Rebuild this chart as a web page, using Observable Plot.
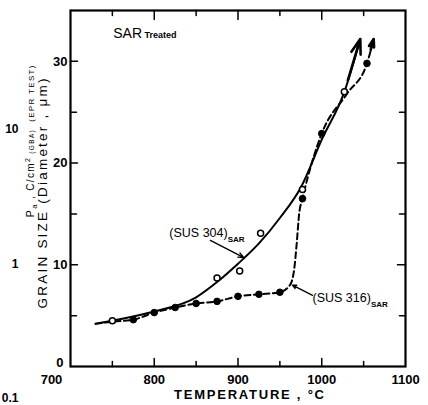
<!DOCTYPE html>
<html><head><meta charset="utf-8">
<script src="https://cdn.jsdelivr.net/npm/d3@7"></script>
<script src="https://cdn.jsdelivr.net/npm/@observablehq/plot@0.6"></script>
<style>body{margin:0;background:#fff;}</style>
</head><body><div id="chart"></div>
<script>
// ---- data ----
const curve304Temp = [730, 750, 800, 850, 875, 900, 925, 950, 975, 1000, 1027, 1046];
const curve304Size = [4.2, 4.5, 5.4, 6.8, 8.3, 10.1, 12.1, 14.6, 17.6, 22.3, 27.0, 32.2];
const pts304Temp = [750, 875, 902, 927, 977, 1027];
const pts304Size = [4.5, 8.7, 9.4, 13.1, 17.4, 27.0];
const curve316Temp = [730, 750, 775, 800, 825, 850, 875, 900, 925, 950, 962, 967, 970, 973, 977, 1000, 1030, 1054, 1062];
const curve316Size = [4.2, 4.4, 4.6, 5.3, 5.8, 6.2, 6.4, 6.9, 7.1, 7.3, 8.0, 9.5, 12.0, 15.0, 16.5, 22.9, 26.8, 29.8, 32.2];
const pts316Temp = [775, 800, 825, 850, 875, 900, 925, 950, 977, 1000, 1054];
const pts316Size = [4.6, 5.3, 5.8, 6.2, 6.4, 6.9, 7.1, 7.3, 16.5, 22.9, 29.8];

const xLabelTicks = [800, 900, 1000, 1100];
const xFirstTick = [700];
const xMajorTicks = [800, 900, 1000];
const xMinorTicks = [750, 850, 950, 1050];
const yLabelTicks = [10, 20, 30];
const yZeroTick = [0];
const yMajorTicks = [10, 20, 30];
const yMinorTicks = [5, 15, 25];

const xTitle = "TEMPERATURE , °C";
const yTitle = "GRAIN SIZE (Diameter , μm)";
const yTitle2 = ["P", "a", " , C/cm", "2", " (GBA)", "  (EPR TEST)"];
const treatedLabel = ["SAR", " Treated"];
const label304 = ["(SUS 304)", "SAR"];
const label316 = ["(SUS 316)", "SAR"];
const neighborLabels = ["10", "1", "0.1"];
const neighborValues = [23.3, 10.1, -3.1];

// annotation anchor positions (data units)
const anno304 = {x: 818, y: 13.1, ax1: 867, ay1: 12.4, ax2: 907, ay2: 10.7};
const anno316 = {x: 989, y: 6.7, ax1: 989, ay1: 7.0, ax2: 965, ay2: 8.0};
const annoTreated = {x: 751, y: 32.7};

// ---- build tables ----
const c304 = curve304Temp.map((t, i) => ({t, g: curve304Size[i]}));
const c316 = curve316Temp.map((t, i) => ({t, g: curve316Size[i]}));
const p304 = pts304Temp.map((t, i) => ({t, g: pts304Size[i]}));
const p316 = pts316Temp.map((t, i) => ({t, g: pts316Size[i]}));
const lastSeg = (c) => [{x1: c[c.length - 2].t, y1: c[c.length - 2].g, x2: c[c.length - 1].t, y2: c[c.length - 1].g}];

const tickShape = {draw(ctx, l) { ctx.moveTo(0, 0); ctx.lineTo(0, -l); }};
const tk = (vals, ch, anchor, rotate, length) =>
  Plot.vector(vals, {[ch]: d => d, frameAnchor: anchor, rotate, length, anchor: "start", shape: tickShape, strokeWidth: 1.5, stroke: "black"});

const font = "'Liberation Sans', Arial, Helvetica, sans-serif";
const fmt = d => String(d);

const svg = Plot.plot({
  width: 428, height: 405,
  marginLeft: 70, marginRight: 23, marginTop: 10, marginBottom: 39,
  x: {domain: [700, 1100]},
  y: {domain: [0, 35]},
  style: {fontFamily: font, background: "white", color: "black", overflow: "visible"},
  marks: [
    // ticks
    tk(xMajorTicks, "x", "bottom", 0, 8), tk(xMinorTicks, "x", "bottom", 0, 5),
    tk(xMajorTicks, "x", "top", 180, 9), tk(xMinorTicks, "x", "top", 180, 5),
    tk(yMajorTicks, "y", "left", 90, 7), tk(yMinorTicks, "y", "left", 90, 6),
    tk(yMajorTicks, "y", "right", -90, 8), tk(yMinorTicks, "y", "right", -90, 6),
    Plot.frame({strokeWidth: 2.2, stroke: "black"}),
    // tick labels
    Plot.axisX(xLabelTicks, {tickSize: 0, tickPadding: 8, fontSize: 13, fontWeight: "bold", tickFormat: fmt, label: null}),
    Plot.axisX(xFirstTick, {tickSize: 0, tickPadding: 8, fontSize: 13, fontWeight: "bold", tickFormat: fmt, dx: -19, label: null}),
    Plot.axisY(yLabelTicks, {tickSize: 0, tickPadding: 3, fontSize: 13, fontWeight: "bold", tickFormat: fmt, label: null}),
    Plot.axisY(yZeroTick, {tickSize: 0, tickPadding: 3, fontSize: 13, fontWeight: "bold", tickFormat: fmt, dx: -4, dy: -4, label: null}),
    // curves
    Plot.line(c304, {x: "t", y: "g", curve: "monotone-x", strokeWidth: 2, stroke: "black"}),
    Plot.line(c316, {x: "t", y: "g", curve: "monotone-x", strokeWidth: 2, stroke: "black", strokeDasharray: "6,3.5"}),
    Plot.arrow(lastSeg(c304), {x1: "x1", y1: "y1", x2: "x2", y2: "y2", insetStart: 12, headLength: 9, headAngle: 36, strokeWidth: 2.6, stroke: "black"}),
    Plot.arrow(lastSeg(c316), {x1: "x1", y1: "y1", x2: "x2", y2: "y2", insetStart: 14, headLength: 9, headAngle: 36, strokeWidth: 2.6, stroke: "black"}),
    Plot.dot(p316, {x: "t", y: "g", r: 3.3, fill: "black", stroke: "black", strokeWidth: 1}),
    Plot.dot(p304, {x: "t", y: "g", r: 3, fill: "white", stroke: "black", strokeWidth: 1.5}),
    // annotations
    Plot.arrow([anno304], {x1: "ax1", y1: "ay1", x2: "ax2", y2: "ay2", headLength: 7, headAngle: 45, strokeWidth: 1.3, stroke: "black"}),
    Plot.arrow([anno316], {x1: "ax1", y1: "ay1", x2: "ax2", y2: "ay2", headLength: 5, headAngle: 50, strokeWidth: 1.3, stroke: "black"}),
    Plot.text([label304.join("")], {x: () => anno304.x, y: () => anno304.y, textAnchor: "start", fontSize: 12.5}),
    Plot.text([label316.join("")], {x: () => anno316.x, y: () => anno316.y, textAnchor: "start", fontSize: 12.5}),
    Plot.text([treatedLabel.join("")], {x: () => annoTreated.x, y: () => annoTreated.y, textAnchor: "start", fontSize: 14}),
    // axis titles
    Plot.text([xTitle], {frameAnchor: "bottom", textAnchor: "middle", dx: 11, dy: 32, fontSize: 13, fontWeight: "bold"}),
    Plot.text([yTitle], {frameAnchor: "left", textAnchor: "middle", rotate: -90, dx: -28, dy: 5, fontSize: 13.5}),
    Plot.text([yTitle2.join("")], {frameAnchor: "left", rotate: -90, dx: -40, dy: 29, textAnchor: "start", fontSize: 10}),
    // fragments of neighbouring panel
    Plot.text(neighborLabels, {y: (d, i) => neighborValues[i], frameAnchor: "left", dx: -52, textAnchor: "end", fontSize: 12, fontWeight: "bold"})
  ]
});

document.getElementById("chart").appendChild(svg);

const NS = "http://www.w3.org/2000/svg";
function findText(str) {
  return Array.from(svg.querySelectorAll("text")).find(t => t.textContent === str);
}
function rich(str, parts, extra) {
  const t = findText(str);
  if (!t) return;
  if (extra) for (const k in extra) t.setAttribute(k, extra[k]);
  if (!parts) return;
  t.textContent = "";
  let shift = 0;
  for (const p of parts) {
    const ts = document.createElementNS(NS, "tspan");
    ts.textContent = p.t;
    if (p.s) ts.setAttribute("font-size", p.s);
    if (p.w) ts.setAttribute("font-weight", p.w);
    const want = p.dy || 0;
    if (want - shift) ts.setAttribute("dy", want - shift);
    shift = want;
    t.appendChild(ts);
  }
}
rich(label304.join(""), [{t: label304[0]}, {t: label304[1], s: 8, w: "bold", dy: 5}]);
rich(label316.join(""), [{t: label316[0]}, {t: label316[1], s: 8, w: "bold", dy: 5}]);
rich(treatedLabel.join(""), [{t: treatedLabel[0]}, {t: treatedLabel[1], s: 9, w: "bold"}]);
rich(yTitle2.join(""), [
  {t: yTitle2[0], s: 11}, {t: yTitle2[1], s: 8, dy: 3}, {t: yTitle2[2], s: 10}, {t: yTitle2[3], s: 7, dy: -4},
  {t: yTitle2[4], s: 6.5}, {t: yTitle2[5], s: 8}
], {textLength: 152, lengthAdjust: "spacing"});
rich(yTitle, null, {textLength: 230, lengthAdjust: "spacing"});
rich(xTitle, null, {textLength: 150, lengthAdjust: "spacing"});
</script>
</body></html>
